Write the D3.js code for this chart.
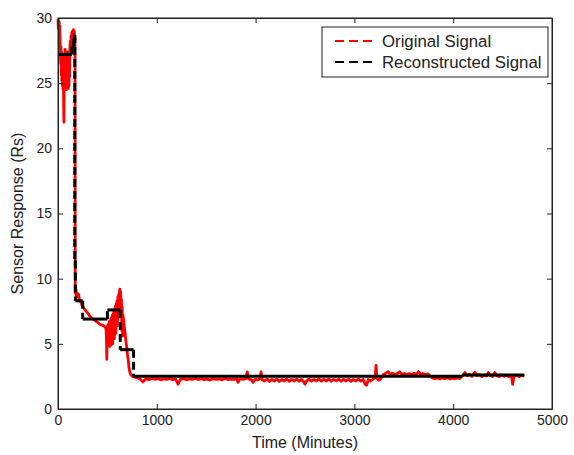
<!DOCTYPE html>
<html><head><meta charset="utf-8">
<script src="https://cdn.jsdelivr.net/npm/d3@7"></script>
<style>body{margin:0;background:#fff} text{font-family:"Liberation Sans",Arial,Helvetica,sans-serif}</style>
</head><body><svg id="c" width="574" height="455"></svg>
<script>
// ---- data ----
const origT = [0,3,6,9,12,15,18,21,24,27,30,33,36,39,42,45,48,51,54,57,60,63,66,69,72,75,78,81,84,87,90,93,96,99,102,105,108,111,114,117,120,124,128,132,136,140,144,148,152,156,160,164,168,172,
174,180,186,192,200,208,216,225,240,256,275,290,307,325,340,357,375,390,408,425,440,459,475,485,490,
494,498,502,506,510,514,518,522,526,530,534,538,542,546,550,554,558,562,566,570,574,578,582,586,590,594,598,602,606,610,614,618,622,626,630,634,638,642,646,650,654,658,
664,670,678,686,694,703,712,720,728,738,750,770,800,
830,860,890,920,950,980,1010,1040,1070,1100,1130,1160,1190,1215,1240,1270,1300,1330,1360,1390,1420,1450,1480,1510,1540,1570,1600,1630,1660,1690,1720,1750,1780,1810,1822,1840,1870,1900,1915,1930,1955,1975,1995,2025,2045,2055,2068,2090,2115,2140,2165,2190,2215,2240,2265,2290,2315,2340,2365,2390,2415,2440,2465,2490,2500,2515,2540,2565,2590,2615,2640,2665,2690,2715,2740,2765,2790,2815,2840,2865,2890,2915,2940,2965,2990,3015,3040,3065,3090,3107,3124,3140,3165,3190,3210,3219,3228,3245,3265,3290,3315,3340,3360,3385,3410,3435,3460,3480,3505,3530,3555,3580,3605,3630,3650,3670,3695,3720,3745,3765,3790,3815,3840,3865,3890,3915,3940,3965,3990,4015,4040,4065,4086,4105,4120,4140,4165,4190,4220,4240,4265,4290,4315,4340,4355,4375,4400,4420,4440,4465,4490,4515,4540,4565,4590,4602,4615,4640,4665,4690,4720];
const origV = [29.9,29.2,29.8,29.1,29.7,28.9,29.4,28.2,27.6,26.5,27.8,25.6,27.4,25.2,27.0,24.8,26.6,24.5,26.2,23.5,22.0,25.0,27.3,24.6,27.6,25.0,27.2,24.7,26.9,24.5,27.0,25.2,27.4,24.9,26.8,24.6,26.5,24.8,26.9,25.5,27.6,28.2,27.4,28.6,27.9,28.9,28.1,29.0,28.4,29.1,28.5,29.0,28.6,28.5,
8.9,9.3,8.6,8.9,8.6,8.8,8.4,8.3,8.0,7.8,7.6,7.45,7.3,7.1,7.0,6.9,6.8,6.7,6.6,6.5,6.45,6.4,6.3,6.2,5.6,
3.8,5.9,6.4,5.2,6.5,5.8,6.7,4.8,6.6,5.4,6.9,4.9,7.0,5.6,7.2,5.0,7.3,6.0,7.5,5.4,7.7,6.2,7.9,5.8,8.1,6.6,8.3,6.4,8.6,7.0,8.8,7.4,9.0,9.2,8.6,9.0,7.2,8.4,6.0,7.8,5.6,7.2,
6.8,6.4,5.9,5.3,4.8,4.2,3.7,3.1,2.8,2.62,2.52,2.45,2.4,
2.30,2.08,2.32,2.25,2.35,2.28,2.33,2.24,2.31,2.27,2.34,2.25,2.30,1.90,2.29,2.33,2.24,2.31,2.27,2.35,2.26,2.32,2.25,2.30,2.22,2.33,2.27,2.31,2.24,2.34,2.26,2.30,2.27,2.32,2.05,2.31,2.27,2.33,2.85,2.30,2.25,2.05,2.28,2.24,2.33,2.85,2.22,2.15,2.30,2.12,2.27,2.14,2.30,2.12,2.26,2.15,2.31,2.12,2.27,2.15,2.30,2.13,2.27,2.05,1.90,2.14,2.29,2.13,2.27,2.15,2.31,2.14,2.28,2.15,2.30,2.13,2.27,2.16,2.30,2.13,2.28,2.15,2.29,2.12,2.27,2.15,2.30,2.14,2.27,1.90,1.83,2.26,2.15,2.30,2.40,3.35,2.40,2.20,2.30,2.62,2.72,2.88,2.66,2.74,2.64,2.72,2.86,2.65,2.73,2.64,2.72,2.66,2.74,2.65,2.87,2.66,2.72,2.62,2.70,2.55,2.38,2.32,2.40,2.30,2.38,2.33,2.40,2.31,2.37,2.32,2.39,2.34,2.50,2.62,2.80,2.55,2.66,2.50,2.82,2.56,2.64,2.48,2.62,2.54,2.80,2.58,2.50,2.80,2.55,2.48,2.62,2.50,2.60,2.47,2.55,1.90,2.50,2.62,2.48,2.58,2.52];
// reconstructed signal: step boundaries and level of each step
const reconT = [0,140,158,170,176,250,500,630,765,4090,4720];
const reconV = [27.2,27.8,28.7,11.4,8.3,6.9,7.6,4.55,2.52,2.6];
const xTicks = [0,1000,2000,3000,4000,5000];
const yTicks = [0,5,10,15,20,25,30];
const seriesNames = ["Original Signal","Reconstructed Signal"];
const seriesColors = ["#ff0000","#000000"];

// ---- layout ----
const L=58,R=552,T=18,B=409;
const svg=d3.select("#c");
const x=d3.scaleLinear().domain([0,5000]).range([L,R]);
const y=d3.scaleLinear().domain([0,30]).range([B,T]);

svg.append("rect").attr("width",574).attr("height",455).attr("fill","#fff");

// red original signal
const n=Math.min(origT.length,origV.length);
const orig=origT.slice(0,n).map((t,i)=>[t,origV[i]]);
svg.append("path").datum(orig)
  .attr("d",d3.line().x(d=>x(d[0])).y(d=>y(d[1])))
  .attr("fill","none").attr("stroke",seriesColors[0]).attr("stroke-width",2.8).attr("stroke-linejoin","round");

// reconstructed: horizontal levels solid, transitions dashed
const g=svg.append("g");
for(let i=0;i<reconV.length;i++){
  g.append("line").attr("x1",x(reconT[i])).attr("x2",x(reconT[i+1]))
    .attr("y1",y(reconV[i])).attr("y2",y(reconV[i]))
    .attr("stroke",seriesColors[1]).attr("stroke-width",3);
  if(i<reconV.length-1){
    g.append("line").attr("x1",x(reconT[i+1])).attr("x2",x(reconT[i+1]))
      .attr("y1",y(reconV[i])).attr("y2",y(reconV[i+1]))
      .attr("stroke",seriesColors[1]).attr("stroke-width",3).attr("stroke-dasharray","8,4");
  }
}

// axes
const axCol="#222";
const fmt=d3.format("d");
function style(sel){sel.selectAll("path,line").attr("stroke",axCol);sel.selectAll("text").attr("fill","#222").style("font-size","14px").style("font-family",'"Liberation Sans",Arial,sans-serif');}
svg.append("g").attr("transform",`translate(0,${B})`).call(d3.axisBottom(x).tickValues(xTicks).tickFormat(fmt).tickSize(-5).tickSizeOuter(0).tickPadding(6)).call(style);
svg.append("g").attr("transform",`translate(0,${T})`).call(d3.axisTop(x).tickValues(xTicks).tickSize(-5).tickSizeOuter(0).tickFormat("")).call(style);
svg.append("g").attr("transform",`translate(${L},0)`).call(d3.axisLeft(y).tickValues(yTicks).tickFormat(fmt).tickSize(-5).tickSizeOuter(0).tickPadding(6)).call(style);
svg.append("g").attr("transform",`translate(${R},0)`).call(d3.axisRight(y).tickValues(yTicks).tickSize(-5).tickSizeOuter(0).tickFormat("")).call(style);
svg.append("rect").attr("x",L).attr("y",T).attr("width",R-L).attr("height",B-T).attr("fill","none").attr("stroke",axCol);

// labels
svg.append("text").attr("x",(L+R)/2).attr("y",448).attr("text-anchor","middle").style("font-size","16px").attr("fill","#222").text("Time (Minutes)");
svg.append("text").attr("transform",`translate(23,${(T+B)/2}) rotate(-90)`).attr("text-anchor","middle").style("font-size","16px").attr("fill","#222").text("Sensor Response (Rs)");

// legend
const lg=svg.append("g");
lg.append("rect").attr("x",322).attr("y",27).attr("width",226).attr("height",50).attr("fill","#fff").attr("stroke",axCol);
seriesNames.forEach((s,i)=>{
  const yy=41+i*21;
  lg.append("line").attr("x1",335).attr("x2",377).attr("y1",yy).attr("y2",yy)
    .attr("stroke",seriesColors[i]).attr("stroke-width",2).attr("stroke-dasharray","9,5");
  lg.append("text").attr("x",382).attr("y",yy+6).style("font-size","16.8px").attr("fill","#222").text(s);
});
</script></body></html>
